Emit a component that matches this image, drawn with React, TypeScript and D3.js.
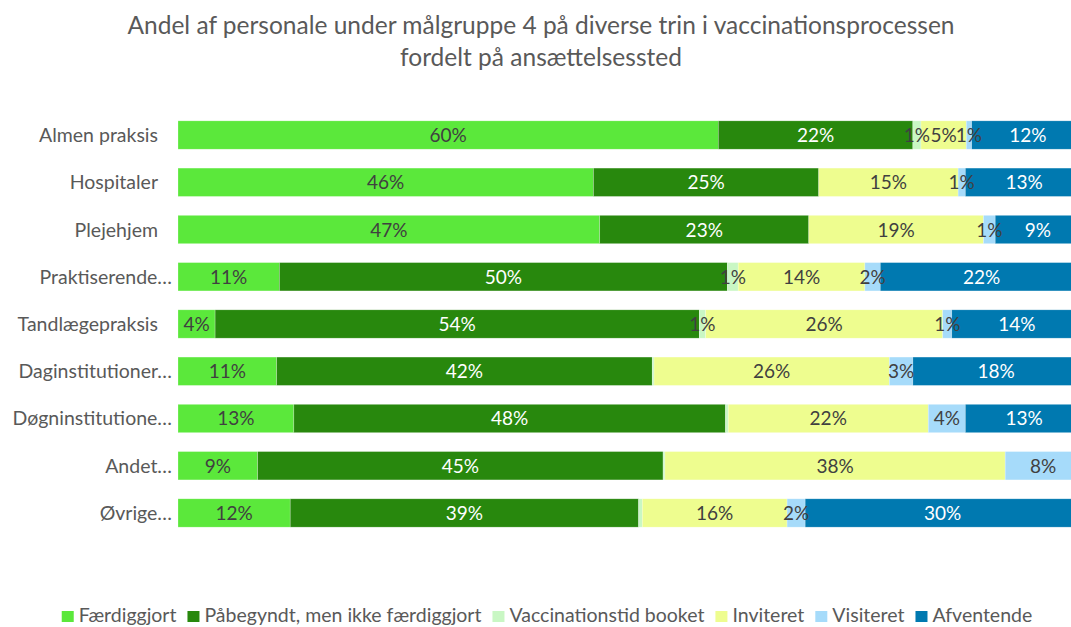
import React, { useEffect, useRef } from "react";
import * as d3 from "d3";

const categories = [
  "Almen praksis",
  "Hospitaler",
  "Plejehjem",
  "Praktiserende…",
  "Tandlægepraksis",
  "Daginstitutioner…",
  "Døgninstitutione…",
  "Andet…",
  "Øvrige…",
];

const faerdiggjort = [59.7, 45.9, 46.6, 11.2, 4.1, 10.9, 12.8, 8.8, 12.4];
const paabegyndt = [21.5, 24.9, 23.1, 49.5, 53.5, 41.5, 47.7, 44.8, 38.5];
const booket = [0.9, 0, 0, 1.2, 0.7, 0.2, 0.3, 0.2, 0.4];
const inviteret = [5.0, 15.4, 19.3, 14.0, 26.2, 26.0, 22.1, 37.6, 16.0];
const visiteret = [0.6, 0.8, 1.3, 1.7, 1.0, 2.6, 4.1, 8.4, 2.0];
const afventende = [12.4, 13.0, 9.4, 22.4, 14.4, 18.4, 13.0, 0.2, 30.4];

const seriesNames = [
  "Færdiggjort",
  "Påbegyndt, men ikke færdiggjort",
  "Vaccinationstid booket",
  "Inviteret",
  "Visiteret",
  "Afventende",
];
const seriesValues = [faerdiggjort, paabegyndt, booket, inviteret, visiteret, afventende];
const colors = ["#5BE83B", "#28880D", "#C9F7C4", "#EEFD8F", "#A6DBFA", "#0079B0"];
const labelColors = ["#404040", "#ffffff", "#404040", "#404040", "#404040", "#ffffff"];

const titleLines = [
  "Andel af personale under målgruppe 4 på diverse trin i vaccinationsprocessen",
  "fordelt på ansættelsessted",
];

const FONT = "Lato, 'Open Sans', sans-serif";

const App = () => {
  const svgRef = useRef<SVGSVGElement>(null);

  useEffect(() => {
    const svg = d3.select(svgRef.current);
    svg.selectAll("*").remove();

    const width = 1071;
    const height = 627;
    svg.attr("width", width).attr("height", height);

    const table = categories.map((c, i) => {
      const row: any = { cat: c };
      seriesNames.forEach((s, k) => (row[s] = seriesValues[k][i]));
      return row;
    });
    const stacked = d3.stack().keys(seriesNames)(table);

    // the 100% end sits just past the right edge, as in the cropped original
    const x = d3.scaleLinear().domain([0, 100]).range([178, 1083]);
    const y = d3
      .scaleBand()
      .domain(categories)
      .range([111.4, 536.6])
      .paddingInner(0.4)
      .paddingOuter(0.2);

    // title
    svg
      .append("g")
      .selectAll("text")
      .data(titleLines)
      .enter()
      .append("text")
      .attr("x", 541)
      .attr("y", (d, i) => 34 + i * 32)
      .attr("text-anchor", "middle")
      .attr("font-family", FONT)
      .attr("font-size", 24.5)
      .attr("fill", "#595959")
      .text((d) => d);

    // bars
    const layers = svg
      .append("g")
      .selectAll("g")
      .data(stacked)
      .enter()
      .append("g")
      .attr("fill", (d, i) => colors[i]);

    layers
      .selectAll("rect")
      .data((d) => d.map((p) => ({ p, key: d.key })))
      .enter()
      .append("rect")
      .attr("x", (d) => x(d.p[0]))
      .attr("y", (d) => y(d.p.data.cat as string)!)
      .attr("width", (d) => x(d.p[1]) - x(d.p[0]))
      .attr("height", y.bandwidth())
      .attr("stroke", "#ffffff")
      .attr("stroke-opacity", 0.4)
      .attr("stroke-width", 0.6);

    // data labels (hidden when they round to 0%)
    stacked.forEach((layer, k) => {
      const key = seriesNames[k];
      svg
        .append("g")
        .selectAll("text")
        .data(layer.filter((p) => Math.round(p.data[key] as number) >= 1))
        .enter()
        .append("text")
        .attr("x", (p) => (x(p[0]) + x(p[1])) / 2)
        .attr("y", (p) => y(p.data.cat as string)! + y.bandwidth() / 2 + 7)
        .attr("text-anchor", "middle")
        .attr("font-family", FONT)
        .attr("font-size", 19)
        .attr("fill", labelColors[k])
        .text((p) => `${Math.round(p.data[key] as number)}%`);
    });

    // category labels: Excel leaves the untruncated ones a little further left
    svg
      .append("g")
      .selectAll("text")
      .data(categories)
      .enter()
      .append("text")
      .attr("x", (d) => (d.endsWith("…") ? 172 : 158))
      .attr("y", (d) => y(d)! + y.bandwidth() / 2 + 7)
      .attr("text-anchor", "end")
      .attr("font-family", FONT)
      .attr("font-size", 19.5)
      .attr("fill", "#595959")
      .text((d) => d);

    // legend
    const legend = svg.append("g");
    const items = legend
      .selectAll("g")
      .data(seriesNames)
      .enter()
      .append("g");
    items
      .append("rect")
      .attr("width", 12)
      .attr("height", 11)
      .attr("y", 611)
      .attr("fill", (d, i) => colors[i]);
    items
      .append("text")
      .attr("x", 17)
      .attr("y", 622)
      .attr("font-family", FONT)
      .attr("font-size", 19.5)
      .attr("fill", "#595959")
      .text((d) => d);

    const gap = 11;
    const widths: number[] = [];
    items.each(function () {
      const t = d3.select(this).select("text").node() as SVGTextElement;
      widths.push(17 + t.getComputedTextLength());
    });
    const total = d3.sum(widths) + gap * (widths.length - 1);
    let cx = 547 - total / 2;
    items.each(function (d, i) {
      d3.select(this).attr("transform", `translate(${cx},0)`);
      cx += widths[i] + gap;
    });
  }, []);

  return (
    <svg
      ref={svgRef}
      style={{ position: "absolute", left: 0, top: 0, background: "#fff" }}
    />
  );
};

export default App;
